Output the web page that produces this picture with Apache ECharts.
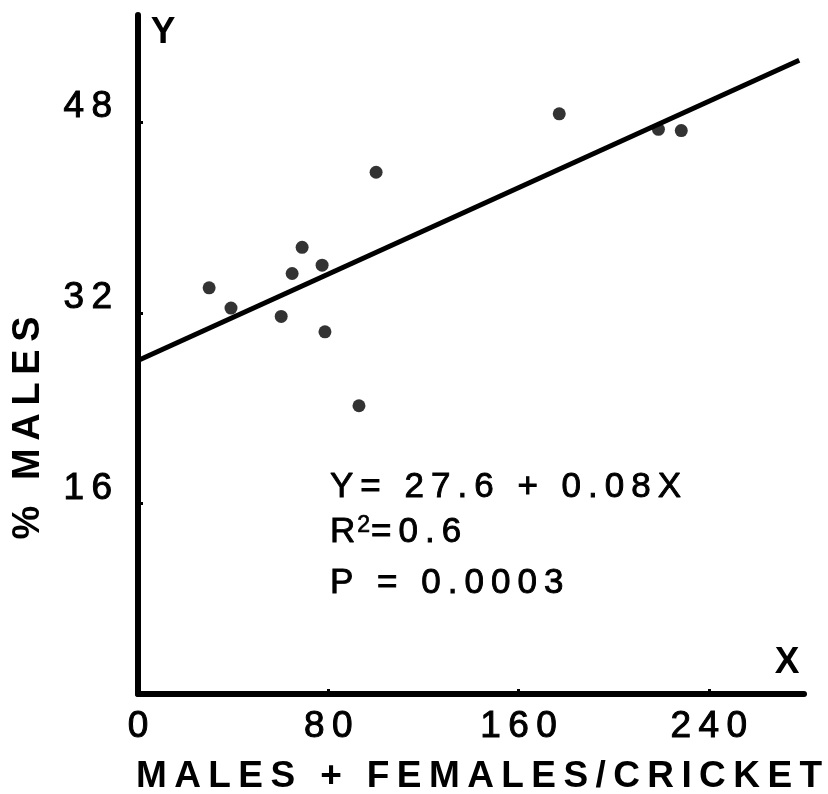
<!DOCTYPE html>
<html>
<head>
<meta charset="utf-8">
<script src="https://cdn.jsdelivr.net/npm/echarts@6/dist/echarts.min.js"></script>
<style>
  html, body { margin: 0; padding: 0; background: #fff; }
  #main { width: 828px; height: 794px; }
</style>
</head>
<body>
<div id="main"></div>
<script>
// data
const xTicks = [0, 80, 160, 240]
const yTicks = [16, 32, 48]
const crickets = [29.9, 39.1, 60.2, 64.8, 69.0, 77.4, 78.6, 100.1, 92.9, 177.1, 218.8, 228.4]
const pctMales = [34.1, 32.4, 31.7, 35.3, 37.5, 36.0, 30.4, 43.8, 24.2, 48.7, 47.4, 47.3]
// fitted line as drawn (ends)
const fitX = [0, 278]
const fitY = [28.0, 53.2]
const eqLines = ['Y= 27.6 + 0.08X', 'R2=0.6', 'P = 0.0003']
const xTitle = 'MALES + FEMALES/CRICKET'
const yTitle = '% MALES'

// the original is typeset with wide letter spacing
const spread = s => s.split('').join('\u2009')
const font = 'Liberation Sans, Arial, sans-serif'

const chart = echarts.init(document.getElementById('main'))

// medium weight: regular face with a thin outline of the same colour
const medium = (text, x, y, size) => ({
  type: 'text', x: x, y: y,
  style: { text: text, font: size + 'px ' + font, fill: '#000', stroke: '#000', lineWidth: 0.9, verticalAlign: 'middle' }
})

// R squared line, the 2 raised as a superscript
const r2 = {
  type: 'text', x: 330, y: 532,
  style: {
    text: '{b|R}{sup|2}{b|' + spread(eqLines[1].slice(2)) + '}',
    verticalAlign: 'middle',
    rich: {
      b: { fontFamily: font, fontSize: 35, fill: '#000', stroke: '#000', lineWidth: 0.9, verticalAlign: 'bottom', lineHeight: 36 },
      sup: { fontFamily: font, fontSize: 23, fill: '#000', stroke: '#000', lineWidth: 0.7, verticalAlign: 'top', lineHeight: 36, padding: [0, 1, 0, 2] }
    }
  }
}

const option = {
  animation: false,
  backgroundColor: '#fff',
  grid: { left: 138, right: 24, top: 15, bottom: 100 },
  xAxis: {
    type: 'value',
    min: 0,
    max: 280,
    splitLine: { show: false },
    axisLine: { show: true, lineStyle: { color: '#000', width: 6 } },
    axisTick: { show: true, inside: true, length: 5, lineStyle: { color: '#000', width: 3 }, customValues: xTicks.slice(1) },
    axisLabel: {
      customValues: xTicks,
      margin: 14,
      color: '#000',
      fontFamily: font,
      fontSize: 37,
      textBorderColor: '#000',
      textBorderWidth: 1,
      formatter: v => spread(String(v))
    }
  },
  yAxis: {
    type: 'value',
    min: 0,
    max: 57,
    splitLine: { show: false },
    axisLine: { show: true, lineStyle: { color: '#000', width: 6 } },
    axisTick: { show: true, inside: true, length: 5, lineStyle: { color: '#000', width: 3 }, customValues: yTicks },
    axisLabel: {
      customValues: yTicks,
      margin: 26,
      color: '#000',
      fontFamily: font,
      fontSize: 37,
      lineHeight: 30,
      verticalAlign: 'bottom',
      textBorderColor: '#000',
      textBorderWidth: 1,
      formatter: v => spread(String(v))
    }
  },
  series: [
    {
      type: 'line',
      data: fitX.map((x, i) => [x, fitY[i]]),
      symbol: 'none',
      lineStyle: { color: '#000', width: 5 }
    },
    {
      type: 'scatter',
      data: crickets.map((x, i) => [x, pctMales[i]]),
      symbolSize: 13,
      itemStyle: { color: '#000' }
    }
  ],
  graphic: [
    // axis letters
    { type: 'text', x: 163, y: 33, style: { text: 'Y', font: 'bold 37px ' + font, fill: '#000', align: 'center', verticalAlign: 'middle' } },
    { type: 'text', x: 787, y: 663, style: { text: 'X', font: 'bold 37px ' + font, fill: '#000', align: 'center', verticalAlign: 'middle' } },
    // axis titles
    { type: 'text', x: 479, y: 777, style: { text: spread(xTitle), font: 'bold 37px ' + font, fill: '#000', align: 'center', verticalAlign: 'middle' } },
    { type: 'text', x: 29, y: 428, rotation: Math.PI / 2, style: { text: spread(yTitle), font: 'bold 38px ' + font, fill: '#000', align: 'center', verticalAlign: 'middle' } },
    // regression statistics
    medium(spread(eqLines[0]), 330, 487, 35),
    r2,
    medium(spread(eqLines[2]), 330, 583, 35)
  ]
}
chart.setOption(option)
</script>
</body>
</html>
